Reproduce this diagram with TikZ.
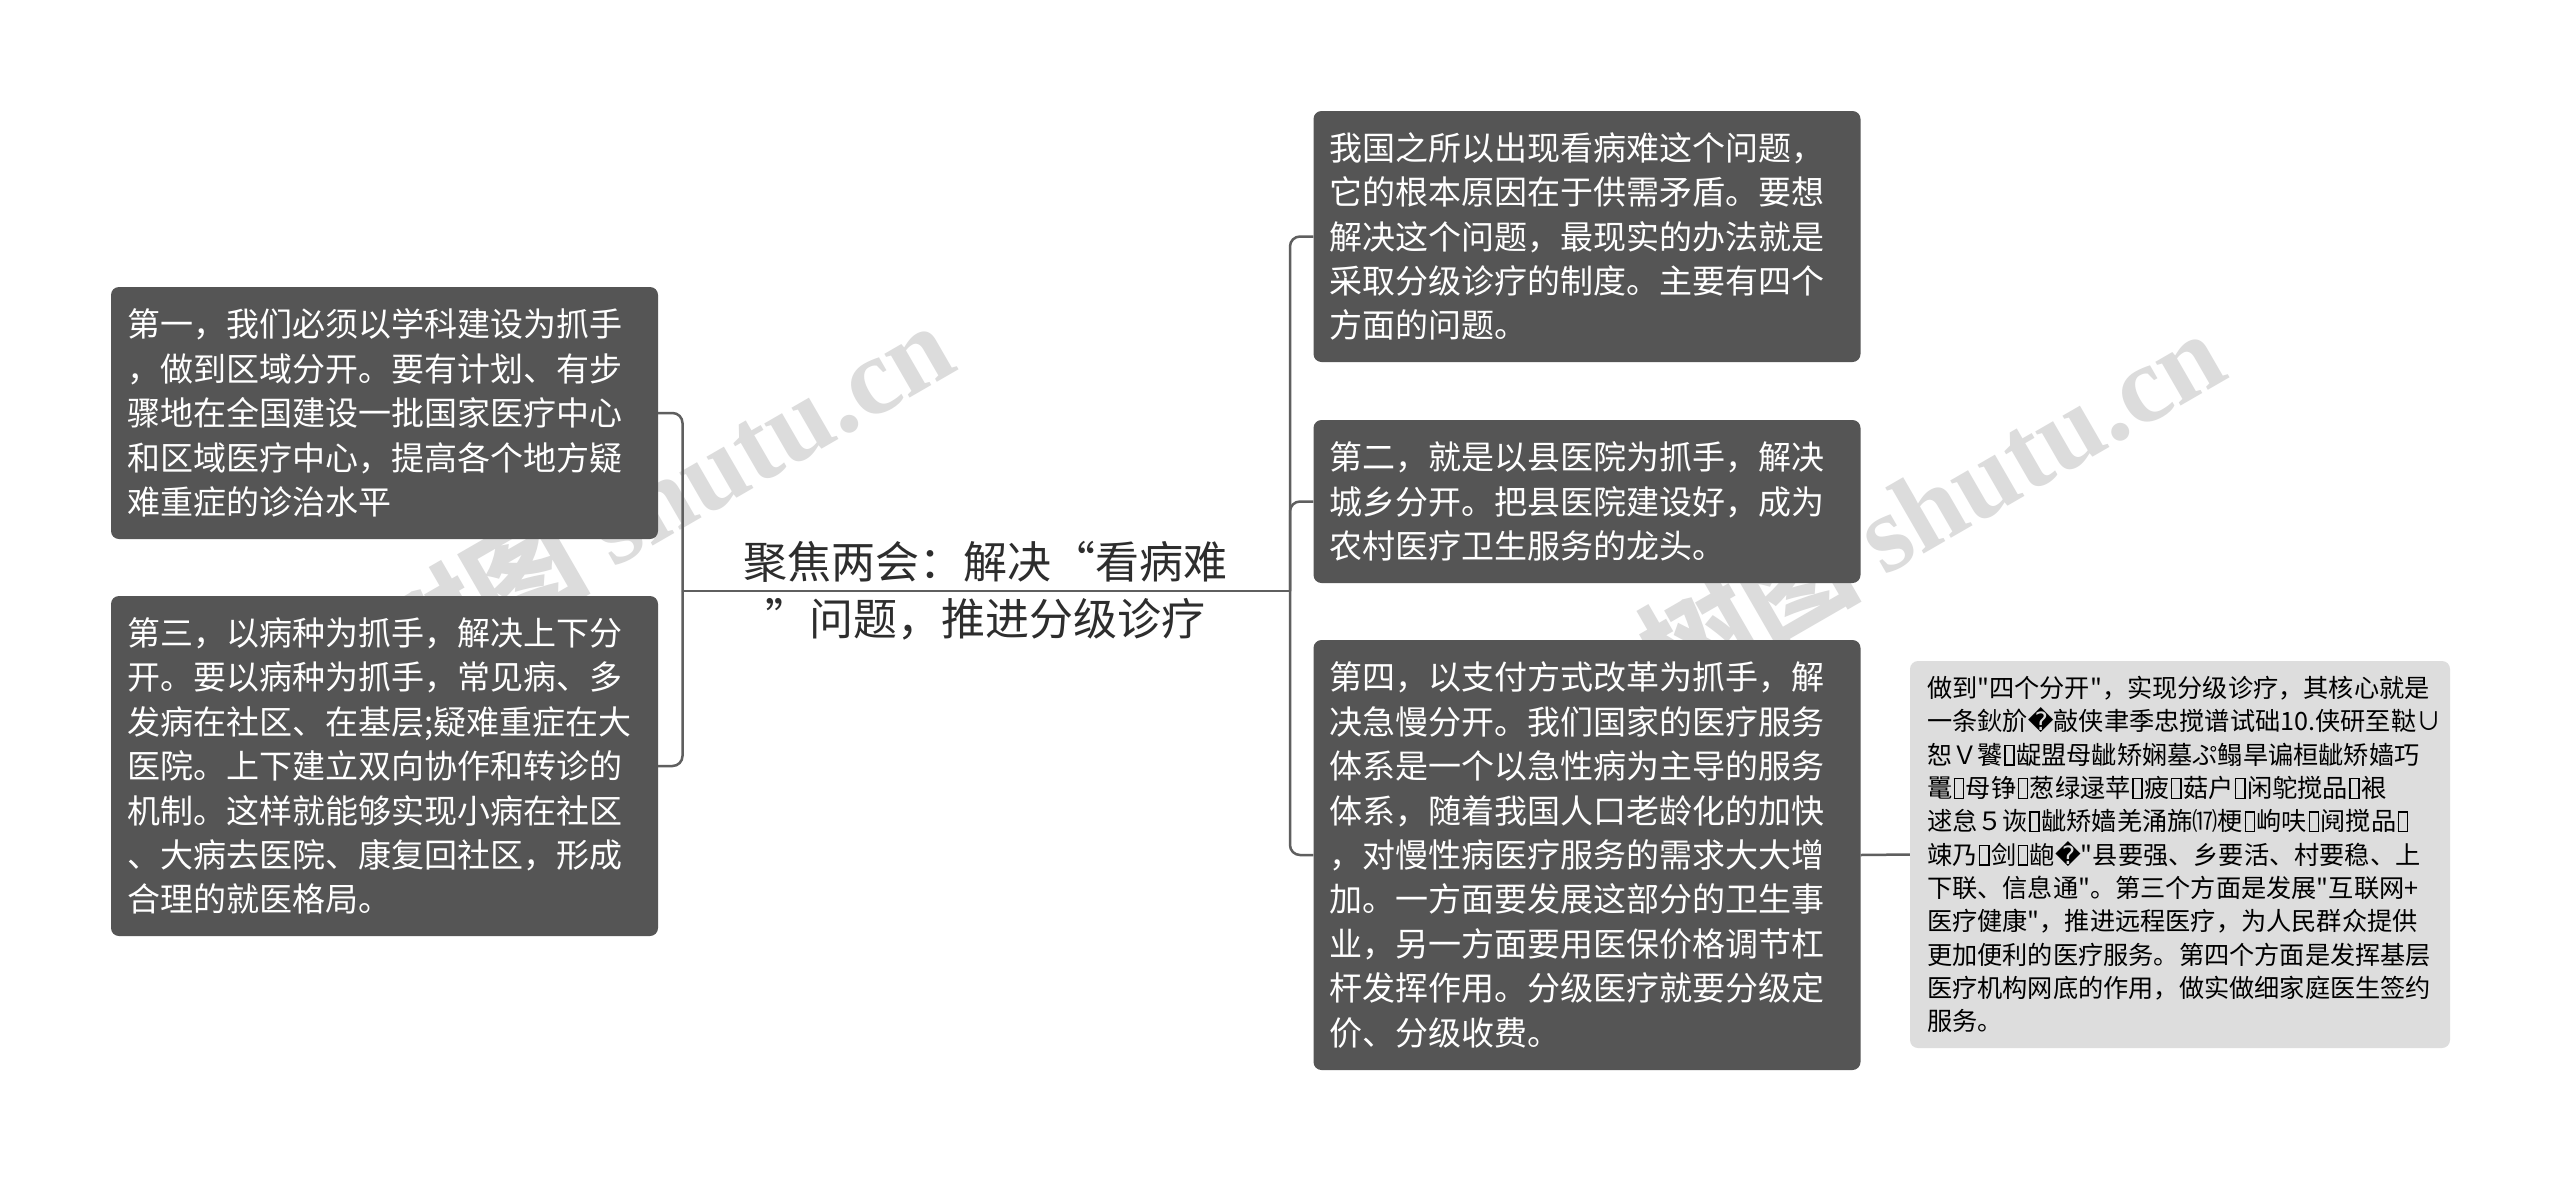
\documentclass[tikz,border=0pt]{standalone}
\usepackage{fontspec}
\setmainfont{Noto Sans CJK SC}
\newfontfamily\notefont{Noto Sans CJK SC}
\newfontfamily\dejavu{DejaVu Sans}
\newfontfamily\wmserif{Liberation Serif}
\definecolor{boxgray}{RGB}{85,85,85}
\definecolor{notegray}{RGB}{221,221,221}
\definecolor{linegray}{RGB}{95,95,95}
\definecolor{rootgray}{RGB}{45,45,45}
\definecolor{wmgray}{RGB}{220,220,220}
\newcommand{\tofu}{{\setlength{\fboxrule}{0.06em}\setlength{\fboxsep}{0pt}\kern0.06em\fbox{\vrule width0pt height0.72em\hspace{0.3em}}\kern0.06em}}
\newcommand{\repl}{{\dejavu\symbol{"FFFD}}}
\begin{document}
\begin{tikzpicture}[x=1pt,y=-1pt,
  darkbox/.style={fill=boxgray, rounded corners=8pt, text=white, align=left,
    text width=515pt, inner xsep=16pt, inner ysep=0pt,
    font=\fontsize{33}{44.4}\selectfont},
  notebox/.style={fill=notegray, rounded corners=8pt, text=black, align=left,
    text width=506pt, inner xsep=17pt, inner ysep=0pt,
    font=\notefont\fontsize{25.2}{33.3}\selectfont},
  rootnode/.style={text=rootgray, align=center, inner sep=0pt,
    font=\fontsize{44}{57}\selectfont},
  conn/.style={draw=linegray, line width=2.5pt, rounded corners=10pt},
  wm/.style={text=wmgray, inner sep=0pt, rotate=30, font=\fontsize{110}{120}\selectfont\bfseries}
]
\useasboundingbox (0,0) rectangle (2560,1181);
\fill[white] (0,0) rectangle (2560,1181);

% watermarks
\node[wm] (wm1) at (660,494) {树图 {\wmserif\bfseries shutu.cn}};
\node[wm] (wm2) at (1931,502) {树图 {\wmserif\bfseries shutu.cn}};

% root
\node[rootnode] (root) at (985,591) {聚焦两会：解决\makebox[1em][r]{“}看病难\\\makebox[1em][l]{”}问题，推进分级诊疗};

% left boxes
\node[darkbox, minimum height=252pt] (L1) at (384.5,413) {第一，我们必须以学科建设为抓手\\
，做到区域分开。要有计划、有步\\
骤地在全国建设一批国家医疗中心\\
和区域医疗中心，提高各个地方疑\\
难重症的诊治水平};

\node[darkbox, minimum height=340pt] (L2) at (384.5,766) {第三，以病种为抓手，解决上下分\\
开。要以病种为抓手，常见病、多\\
发病在社区、在基层;疑难重症在大\\
医院。上下建立双向协作和转诊的\\
机制。这样就能够实现小病在社区\\
、大病去医院、康复回社区，形成\\
合理的就医格局。};

% right boxes
\node[darkbox, minimum height=251pt] (R1) at (1587,236.5) {我国之所以出现看病难这个问题，\\
它的根本原因在于供需矛盾。要想\\
解决这个问题，最现实的办法就是\\
采取分级诊疗的制度。主要有四个\\
方面的问题。};

\node[darkbox, minimum height=163pt] (R2) at (1587,501.5) {第二，就是以县医院为抓手，解决\\
城乡分开。把县医院建设好，成为\\
农村医疗卫生服务的龙头。};

\node[darkbox, minimum height=430pt] (R3) at (1587,855) {第四，以支付方式改革为抓手，解\\
决急慢分开。我们国家的医疗服务\\
体系是一个以急性病为主导的服务\\
体系，随着我国人口老龄化的加快\\
，对慢性病医疗服务的需求大大增\\
加。一方面要发展这部分的卫生事\\
业，另一方面要用医保价格调节杠\\
杆发挥作用。分级医疗就要分级定\\
价、分级收费。};

% note
\node[notebox, minimum height=387pt] (note) at (2180,854.5) {做到"四个分开"，实现分级诊疗，其核心就是\\
一条鈥斺\repl{}敲侠聿季忠搅谱试础10.侠研至鞑∪\\
恕Ｖ饕\tofu{}龊盟母龇矫娴墓ぷ鳎旱谝桓龇矫嫱巧\\
鼍\tofu{}母铮\tofu{}葱绿逯苹\tofu{}疲\tofu{}菇户\tofu{}闲鸵搅品\tofu{}裉\\
逑怠５诙\tofu{}龇矫嫱羌涌旆⒄梗\tofu{}岣呋\tofu{}阋搅品\tofu{}\\
竦乃\tofu{}剑\tofu{}龅\repl{}"县要强、乡要活、村要稳、上\\
下联、信息通"。第三个方面是发展"互联网+\\
医疗健康"，推进远程医疗，为人民群众提供\\
更加便利的医疗服务。第四个方面是发挥基层\\
医疗机构网底的作用，做实做细家庭医生签约\\
服务。};

% connectors
\coordinate (lj) at (682.5,591);
\coordinate (rj) at (1290,591);
\draw[conn] (root.center) -- (lj);
\draw[conn] (root.center) -- (rj);
\draw[conn] (lj) |- (L1.east);
\draw[conn] (lj) |- (L2.east);
\draw[conn] (rj) |- (R1.west);
\draw[conn] (rj) |- (R2.west);
\draw[conn] (rj) |- (R3.west);
\draw[conn] (R3.east) -- (note.west);
\end{tikzpicture}
\end{document}
